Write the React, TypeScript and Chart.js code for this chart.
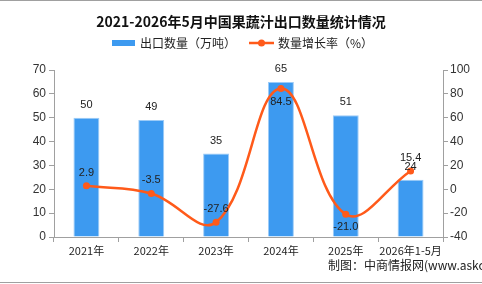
import React, { useEffect, useRef } from "react";
import { Chart, registerables } from "chart.js";

Chart.register(...registerables);

const categories = ["2021年", "2022年", "2023年", "2024年", "2025年", "2026年1-5月"];
const exportVolume = [50, 49, 35, 65, 51, 24]; // 万吨
const growthRate = [2.9, -3.5, -27.6, 84.5, -21.0, 15.4]; // %
const leftTicks = [0, 10, 20, 30, 40, 50, 60, 70];
const rightTicks = [-40, -20, 0, 20, 40, 60, 80, 100];

const TITLE = "2021-2026年5月中国果蔬汁出口数量统计情况";
const BAR_LEGEND = "出口数量（万吨）";
const LINE_LEGEND = "数量增长率（%）";
const SOURCE = "制图：中商情报网(www.askci.com)";

const CJK = '"Noto Sans CJK SC", "Noto Sans", sans-serif';
const NUM = '"Liberation Sans", Arial, sans-serif';
const BAR_COLOR = "#3d9af0";
const LINE_COLOR = "#ff5a1a";

const decorations = {
  id: "decorations",
  afterDraw(chart: any) {
    const ctx = chart.ctx as CanvasRenderingContext2D;
    const W = chart.width;
    ctx.save();

    // frame lines
    ctx.strokeStyle = "#a0a0a0";
    ctx.lineWidth = 1;
    ctx.beginPath();
    ctx.moveTo(0, 0.5);
    ctx.lineTo(W, 0.5);
    ctx.moveTo(0, 282.5);
    ctx.lineTo(W, 282.5);
    ctx.stroke();

    // title
    ctx.fillStyle = "#111";
    ctx.font = `bold 14px ${CJK}`;
    ctx.textAlign = "center";
    ctx.textBaseline = "middle";
    ctx.fillText(TITLE, 241, 22);

    // legend
    ctx.font = `12px ${CJK}`;
    ctx.textAlign = "left";
    ctx.fillStyle = BAR_COLOR;
    ctx.fillRect(112, 40, 23, 6);
    ctx.fillStyle = "#222";
    ctx.fillText(BAR_LEGEND, 140, 43.5);
    ctx.strokeStyle = LINE_COLOR;
    ctx.lineWidth = 2.5;
    ctx.beginPath();
    ctx.moveTo(249, 43);
    ctx.lineTo(274, 43);
    ctx.stroke();
    ctx.fillStyle = LINE_COLOR;
    ctx.beginPath();
    ctx.arc(261.5, 43, 3.5, 0, Math.PI * 2);
    ctx.fill();
    ctx.fillStyle = "#222";
    ctx.fillText(LINE_LEGEND, 278, 43.5);

    // source note
    ctx.font = `12px ${CJK}`;
    ctx.fillStyle = "#222";
    ctx.fillText(SOURCE, 328, 265);

    // value labels
    const barMeta = chart.getDatasetMeta(0);
    ctx.font = `11px ${NUM}`;
    ctx.textAlign = "center";
    ctx.fillStyle = "#222";
    barMeta.data.forEach((el: any, i: number) => {
      ctx.fillText(String(exportVolume[i]), el.x, el.y - 13);
    });
    const lineMeta = chart.getDatasetMeta(1);
    const below = new Set([3, 4]);
    lineMeta.data.forEach((el: any, i: number) => {
      const v = growthRate[i];
      const txt = (v < 0 ? "-" : "") + Math.abs(v).toFixed(1);
      ctx.fillText(txt, el.x, below.has(i) ? el.y + 13 : el.y - 13);
    });

    ctx.restore();
  },
};

export default function App() {
  const ref = useRef<HTMLCanvasElement | null>(null);

  useEffect(() => {
    document.body.style.margin = "0";
    const canvas = ref.current;
    if (!canvas) return;
    const axisColor = "#a0a0a0";
    const tickFont = { family: NUM, size: 12 };
    const chart = new Chart(canvas, {
      data: {
        labels: categories,
        datasets: [
          {
            type: "bar",
            label: BAR_LEGEND,
            data: exportVolume,
            backgroundColor: BAR_COLOR,
            borderColor: "#9ccbf7",
            borderWidth: 1,
            barPercentage: 0.4,
            categoryPercentage: 1,
            yAxisID: "y",
            order: 2,
          },
          {
            type: "line",
            label: LINE_LEGEND,
            data: growthRate,
            borderColor: LINE_COLOR,
            backgroundColor: LINE_COLOR,
            borderWidth: 2.5,
            pointRadius: 3.5,
            pointBackgroundColor: LINE_COLOR,
            pointBorderWidth: 0,
            tension: 0.4,
            yAxisID: "y1",
            order: 1,
          },
        ],
      } as any,
      options: {
        animation: false,
        responsive: false,
        maintainAspectRatio: false,
        layout: { padding: { top: 70, left: 0, right: 0, bottom: 0 } },
        plugins: {
          legend: { display: false },
          title: { display: false },
          tooltip: { enabled: false },
        },
        scales: {
          x: {
            grid: {
              offset: true,
              drawOnChartArea: false,
              drawTicks: true,
              tickLength: 5,
              color: axisColor,
            },
            border: { color: axisColor },
            ticks: { color: "#222", font: { family: CJK, size: 11 }, padding: 2, maxRotation: 0, autoSkip: false },
            afterFit: (s: any) => {
              s.height = 47;
            },
          },
          y: {
            position: "left",
            min: 0,
            max: 70,
            afterBuildTicks: (s: any) => {
              s.ticks = leftTicks.map((v) => ({ value: v }));
            },
            grid: { drawOnChartArea: false, tickLength: 5, color: axisColor },
            border: { color: axisColor },
            ticks: { color: "#333", font: tickFont, padding: 3 },
            afterFit: (s: any) => {
              s.width = 54;
            },
          },
          y1: {
            position: "right",
            min: -40,
            max: 100,
            afterBuildTicks: (s: any) => {
              s.ticks = rightTicks.map((v) => ({ value: v }));
            },
            grid: { drawOnChartArea: false, tickLength: 5, color: axisColor },
            border: { color: axisColor },
            ticks: { color: "#333", font: tickFont, padding: 2 },
            afterFit: (s: any) => {
              s.width = 39;
            },
          },
        },
      } as any,
      plugins: [decorations],
    });
    return () => chart.destroy();
  }, []);

  return (
    <div style={{ position: "fixed", left: 0, top: 0, width: 482, height: 284, background: "#fff" }}>
      <canvas ref={ref} width={482} height={284} style={{ width: 482, height: 284 }} />
    </div>
  );
}
